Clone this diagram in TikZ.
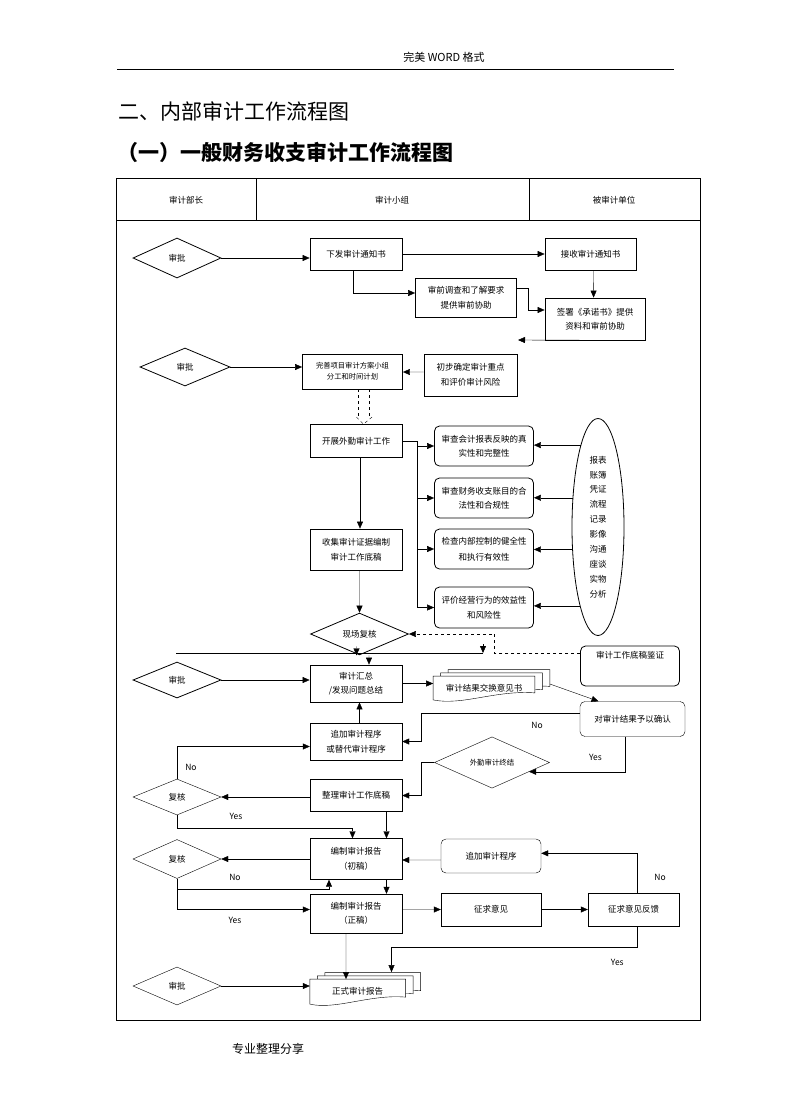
\documentclass[tikz,border=0pt]{standalone}
\usepackage{fontspec}
\setmainfont{Noto Sans CJK SC}
\usepackage{tikz}
\usetikzlibrary{arrows.meta, shapes.geometric, calc, backgrounds}
\tikzset{>={Triangle[length=7bp,width=6bp]}}
\tikzset{procbox/.style 2 args = {shape=rectangle, draw, align=center, inner sep=1bp, minimum width=#1bp, minimum height=#2bp}}
\tikzset{roundbox/.style 2 args = {procbox={#1}{#2}, rounded corners=5bp}}
\tikzset{decision/.style 2 args = {shape=diamond, draw, inner sep=0pt, minimum width=#1bp, minimum height=#2bp}}
\tikzset{docbox/.style 2 args = {shape=rectangle, inner sep=0pt, minimum width=#1bp, minimum height=#2bp}}
\tikzset{yesno/.style = {inner sep=0pt}}
\newcommand{\docstack}[1]{%
  \begin{pgfonlayer}{background}
    \foreach \dx/\dy in {15/6.5, 7.5/3.3, 0/0} {
      \draw[fill=white]
        ([shift={(\dx,-\dy)}]#1.north west) -- ([shift={(\dx,-\dy)}]#1.north east)
        -- ([shift={(\dx,-\dy-7)}]#1.south east)
        .. controls ([shift={(\dx+12,-\dy-10)}]#1.south) and ([shift={(\dx-22,-\dy+6)}]#1.south)
        .. ([shift={(\dx,-\dy)}]#1.south west) -- cycle;
    }
  \end{pgfonlayer}}

\begin{document}
\begin{tikzpicture}[x=1bp, y=-1bp, font=\fontsize{8.5bp}{14.5bp}\selectfont, line width=0.8bp]
\useasboundingbox (0,0) rectangle (792,1120);
% page head and foot
\node (pghead) at (444,57) {\fontsize{11bp}{13bp}\selectfont 完美 WORD 格式};
\draw (117,69.5) -- (674,69.5);
\node[anchor=west, inner sep=0pt] (h2) at (118,111) {\fontsize{21bp}{24bp}\selectfont 二、内部审计工作流程图};
\node[anchor=west, inner sep=0pt] (h1) at (117,152) {\fontsize{21bp}{24bp}\selectfont\bfseries （一）一般财务收支审计工作流程图};
\node (pgfoot) at (268,1049) {\fontsize{12bp}{14bp}\selectfont 专业整理分享};

% lanes
\draw (116,178) rectangle (700,1020);
\draw (116,220) -- (700,220);
\draw (256,178) -- (256,220);
\draw (529,178) -- (529,220);
\node (lane1) at (186,200) {审计部长};
\node (lane2) at (392,200) {审计小组};
\node (lane3) at (614,200) {被审计单位};

% nodes
\node[decision={88}{40}] (sp1) at (177,258) {审批};
\node[procbox={92}{32}] (xfzs) at (356,254) {下发审计通知书};
\node[procbox={91}{32}] (jszs) at (590.5,254) {接收审计通知书};
\node[procbox={101}{39}] (sqdc) at (466,297.5) {审前调查和了解要求\\提供审前协助};
\node[procbox={100}{42}] (qscn) at (595,319) {签署《承诺书》提供\\资料和审前协助};
\coordinate (qsout) at (518,340);
\node[decision={90}{38}] (sp2) at (185,367) {审批};
\node[procbox={100}{35}, font=\fontsize{7.3bp}{11bp}\selectfont] (wsfa) at (352.5,371.5) {完善项目审计方案小组\\分工和时间计划};
\node[procbox={93}{42}] (cbqd) at (470.5,375) {初步确定审计重点\\和评价审计风险};
\node[procbox={92}{33}] (kzwq) at (356,441) {开展外勤审计工作};
\node[roundbox={99}{40}] (scbb) at (484,446) {审查会计报表反映的真\\实性和完整性};
\node[roundbox={99}{40}] (sccw) at (484,498) {审查财务收支账目的合\\法性和合规性};
\node[roundbox={99}{40}, font=\fontsize{8.5bp}{16bp}\selectfont] (jcnk) at (484,549) {检查内部控制的健全性\\和执行有效性};
\node[roundbox={99}{41}] (pjjy) at (484,607.5) {评价经营行为的效益性\\和风险性};
\node[ellipse, draw, inner sep=0pt, minimum width=52bp, minimum height=217bp, align=center, font=\fontsize{8.5bp}{14.9bp}\selectfont] (fsell) at (598,527)
  {报表\\账簿\\凭证\\流程\\记录\\影像\\沟通\\座谈\\实物\\分析};
\node[procbox={92}{41}] (sjzj) at (356,549.5) {收集审计证据编制\\审计工作底稿};
\node[decision={98}{38}] (xcfh) at (359.5,634) {现场复核};
\node[roundbox={99}{40}] (dgjz) at (630,666) {审计工作底稿鉴证\\[8bp]};
\node[decision={88}{36}] (sp3) at (177,680) {审批};
\node[procbox={92}{37}] (sjhz) at (356,683.5) {审计汇总\\/发现问题总结};
\node[docbox={101}{23}] (yjs) at (484,688) {审计结果交换意见书};
\docstack{yjs}
\node[roundbox={105}{35}] (qrjg) at (632.5,719) {对审计结果予以确认};
\node[procbox={92}{37}] (zjcx) at (356,741.5) {追加审计程序\\或替代审计程序};
\node[decision={115}{48}, font=\fontsize{7.4bp}{9bp}\selectfont] (wqzj) at (492,762.5) {外勤审计终结};
\node[procbox={92}{32}] (zlgz) at (356,795.5) {整理审计工作底稿};
\node[decision={88}{36}] (fh1) at (177,797) {复核};
\node[procbox={92}{41}] (bzcg) at (356,859) {编制审计报告\\（初稿）};
\node[decision={88}{39}] (fh2) at (177,859) {复核};
\node[roundbox={100}{34}] (zjcx2) at (491,856) {追加审计程序};
\node[procbox={92}{39}] (bzzg) at (356,913.5) {编制审计报告\\（正稿）};
\node[procbox={100}{33}] (zqyj) at (491,909.5) {征求意见};
\node[procbox={91}{33}] (zqfk) at (633.5,909.5) {征求意见反馈};
\node[docbox={95.4}{24.6}] (zsbg) at (357.7,991.6) {正式审计报告};
\docstack{zsbg}
\node[decision={88}{38}] (sp4) at (177,986) {审批};

% labels
\node[yesno] (no1) at (537,725) {No};
\node[yesno] (yes1) at (595.5,757) {Yes};
\node[yesno] (no2) at (191,767) {No};
\node[yesno] (yes2) at (236,816.7) {Yes};
\node[yesno] (no3) at (235,877.3) {No};
\node[yesno] (yes3) at (235,920.7) {Yes};
\node[yesno] (no4) at (660,877.3) {No};
\node[yesno] (yes4) at (617.3,962.3) {Yes};

% connectors
\draw[->] (sp1.east) -- (sp1.east -| xfzs.west);
\draw[->] (xfzs.east) -- (jszs.west);
\draw[->] ([xshift=-3bp]xfzs.south) |- ([yshift=4.5bp]sqdc.west);
\draw[->] ([xshift=3bp]jszs.south) -- ([xshift=-1.4bp]qscn.north);
\draw[->] ([yshift=9.5bp]sqdc.east) -- ++(11.5,0) |- ([yshift=9bp]qscn.west);
\draw[->] (qscn.south east) -- (qsout);
\draw[->] (sp2.east) -- (sp2.east -| wsfa.west);
\draw[->] ([yshift=3bp]cbqd.west) -- ([yshift=-0.5bp]wsfa.east);
\draw[dashed] ([xshift=5.5bp]wsfa.south) -- ++(0,28);
\draw[dashed] ([xshift=16.5bp]wsfa.south) -- ++(0,28);
\draw[dashed] ([shift={(0.5,-7)}]kzwq.north) -- ([xshift=7.5bp]kzwq.north) -- ([shift={(16,-7)}]kzwq.north);
\draw[->] ([xshift=4bp]kzwq.south) -- ([xshift=4bp]sjzj.north);
\coordinate (br) at (417.5,441);
\draw (kzwq.east) -- (br) -- (br |- pjjy.west);
\foreach \n in {scbb,sccw,jcnk,pjjy}
  \draw[->] (br |- \n.west) -- (\n.west);
\foreach \n/\a in {scbb/102,sccw/131.4,jcnk/221.5,pjjy/257.9}
  \draw[->] (fsell.\a) -- (fsell.\a -| \n.east);
\draw[->] ([xshift=3.5bp]sjzj.south) -- (xcfh.north);
\draw[dashed,->] ([yshift=13bp]dgjz.west) -- ++(-85.5,0) |- (xcfh.east);
\coordinate (hlinel) at (176,653);
\coordinate (hliner) at (483,653);
\draw (hlinel) -- (hliner);
\draw[->] ([yshift=9bp]hliner) -- (hliner);
\draw[->] ([shift={(-3,-9)}]xcfh.south) -- ([xshift=-3bp]xcfh.south);
\draw[->] ([xshift=9.5bp]xcfh.south) -- ([xshift=13bp]sjhz.north);
\draw[->] (sp3.east) -- (sp3.east -| sjhz.west);
\draw[->] (sjhz.east) -- (sjhz.east -| yjs.west);
\draw[->] ([shift={(15,-4)}]yjs.east) -- ([xshift=-34bp]qrjg.north);
\draw[->] ([yshift=6bp]qrjg.west) -- ++(-159,0) |- (zjcx.east);
\draw[->] ([xshift=3.5bp]zjcx.north) -- ([xshift=3.5bp]sjhz.south);
\draw[->] ([xshift=-7bp]qrjg.south) |- (wqzj.-14.5);
\draw[->] (wqzj.west) -- ++(-13.5,0) |- (zlgz.east);
\draw[->] ([yshift=-1.5bp]zlgz.west) -- (fh1.east);
\draw[->] (fh1.north) |- ([yshift=-5bp]zjcx.west);
\draw[->] (fh1.south) -- ++(0,13) -| ([xshift=-3.5bp]bzcg.north);
\draw[->] ([xshift=30.5bp]zlgz.south) -- ([xshift=30.5bp]bzcg.north);
\draw[->] (bzcg.west) -- (fh2.east);
\draw[->] (fh2.south) -- ++(0,10.7) -| ([xshift=-27bp]bzcg.south);
\draw[->] (fh2.south) |- ([yshift=4bp]bzzg.west);
\draw[->] ([xshift=30.5bp]bzcg.south) -- ([xshift=30.5bp]bzzg.north);
\draw[->] ([yshift=-4bp]zjcx2.west) -- ([yshift=-1bp]bzcg.east);
\draw[->] ([yshift=4bp]bzzg.east) -- (zqyj.west);
\draw[->] (zqyj.east) -- (zqfk.west);
\draw[->] ([xshift=3.5bp]zqfk.north) |- ([yshift=2.7bp]zjcx2.east);
\draw[->] ([xshift=3.5bp]zqfk.south) -- ++(0,20.7) -| ([shift={(33.8,-7)}]zsbg.north);
\draw[->] ([xshift=-10bp]bzzg.south) -- ([xshift=-11.7bp]zsbg.north);
\draw[->] (sp4.east) -- (sp4.east -| zsbg.west);
\end{tikzpicture}
\end{document}
